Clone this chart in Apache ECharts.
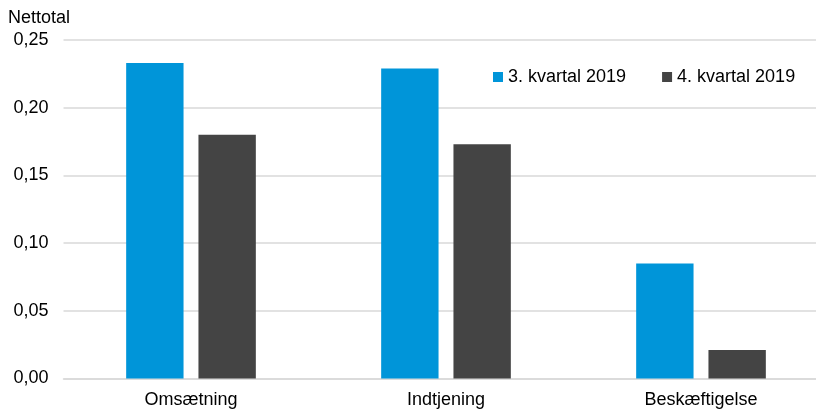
<!DOCTYPE html>
<html>
<head>
<meta charset="utf-8">
<script src="https://cdn.jsdelivr.net/npm/echarts@6/dist/echarts.min.js"></script>
<style>
html,body{margin:0;padding:0;background:#fff;}
#c{width:816px;height:409px;}
</style>
</head>
<body>
<div id="c"></div>
<script>
var categories = ['Omsætning', 'Indtjening', 'Beskæftigelse'];
var q3Values = [0.233, 0.229, 0.085];
var q4Values = [0.180, 0.173, 0.021];
var seriesNames = ['3. kvartal 2019', '4. kvartal 2019'];
var yTicks = { min: 0, max: 0.25, interval: 0.05 };

var font = 'Liberation Sans, Arial, sans-serif';
var chart = echarts.init(document.getElementById('c'), null, { renderer: 'canvas' });
chart.setOption({
  animation: false,
  backgroundColor: '#fff',
  title: {
    text: 'Nettotal',
    left: 8, top: 9, padding: 0,
    textStyle: { fontSize: 18, fontWeight: 'normal', color: '#000', fontFamily: font }
  },
  legend: {
    data: seriesNames,
    left: 488, top: 63,
    icon: 'rect', itemWidth: 10, itemHeight: 10, itemGap: 36,
    textStyle: { fontSize: 18, color: '#000', fontFamily: font }
  },
  grid: { left: 63.5, top: 40, width: 765, height: 338.5, outerBoundsMode: 'none', containLabel: false },
  xAxis: {
    type: 'category',
    data: categories,
    axisTick: { show: false },
    axisLine: { show: true, lineStyle: { color: '#d9d9d9', width: 1.5 } },
    axisLabel: { margin: 13, fontSize: 18, color: '#000', fontFamily: font }
  },
  yAxis: {
    type: 'value',
    min: yTicks.min, max: yTicks.max, interval: yTicks.interval,
    axisLine: { show: false },
    axisTick: { show: false },
    splitLine: { lineStyle: { color: '#d9d9d9', width: 1.5 } },
    axisLabel: {
      margin: 15, fontSize: 18, color: '#000', fontFamily: font,
      formatter: function (v) { return v.toFixed(2).replace('.', ','); }
    }
  },
  series: [
    { name: seriesNames[0], type: 'bar', data: q3Values, barWidth: '22.5%', barGap: '26%',
      itemStyle: { color: '#0095d9' } },
    { name: seriesNames[1], type: 'bar', data: q4Values, barWidth: '22.5%', barGap: '26%',
      itemStyle: { color: '#444444' } }
  ]
});
</script>
</body>
</html>
